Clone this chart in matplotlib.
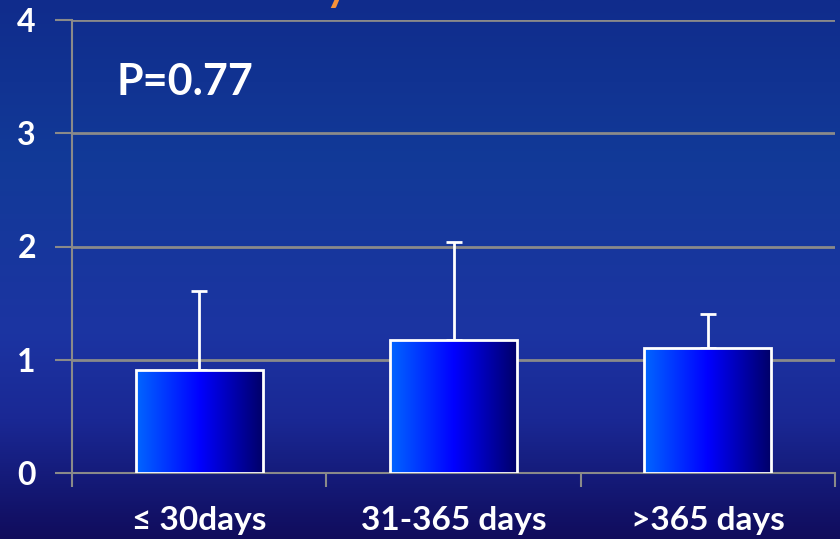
import numpy as np
import matplotlib
matplotlib.use("Agg")
import matplotlib.pyplot as plt
from matplotlib.colors import LinearSegmentedColormap
from matplotlib.patches import Rectangle

plt.rcParams['font.family'] = ['Lato', 'DejaVu Sans']

categories = ["\u2264 30days", "31-365 days", ">365 days"]
means = [0.91, 1.17, 1.10]
upper_err = [0.70, 0.87, 0.30]
yticks = [0, 1, 2, 3, 4]
p_label = "P=0.77"

GRID = "#8a8a8a"
W, H = 840, 539
fig = plt.figure(figsize=(W / 100, H / 100), dpi=100)

# vertical background gradient
bg = fig.add_axes([0, 0, 1, 1], zorder=-10)
bg_cmap = LinearSegmentedColormap.from_list(
    "bg",
    [(0.0, (16/255, 44/255, 140/255)),
     (0.30, (18/255, 58/255, 152/255)),
     (0.62, (28/255, 52/255, 162/255)),
     (0.78, (26/255, 40/255, 148/255)),
     (0.90, (20/255, 25/255, 118/255)),
     (1.0, (17/255, 12/255, 92/255))])
bg.imshow(np.linspace(0, 1, 256)[:, None], aspect="auto", cmap=bg_cmap,
          extent=[0, 1, 0, 1], origin="upper")
bg.set_axis_off()

# tail of the orange heading that runs off the top edge
fig.text(337 / W, 1 - 1.0 / H, "y", color="#f7923a", fontsize=30,
         fontweight="bold", ha="center", va="baseline")

ax = fig.add_axes([72 / W, 1 - 473 / H, (835 - 72) / W, (473 - 20) / H])
ax.set_facecolor("none")
ax.set_xlim(0, 3)
ax.set_ylim(0, 4)

bar_cmap = LinearSegmentedColormap.from_list(
    "bar", [(0.0, "#0066ff"), (0.5, "#0000ff"), (1.0, "#000066")])
xs = np.arange(len(categories)) + 0.5
width = 0.5
grad = np.linspace(0, 1, 256)[None, :]
for x, m, e in zip(xs, means, upper_err):
    ax.errorbar(x, m, yerr=[[0], [e]], fmt="none", ecolor="white",
                elinewidth=2, capsize=6, capthick=2, zorder=2)
    im = ax.imshow(grad, cmap=bar_cmap, aspect="auto",
                   extent=[x - width / 2, x + width / 2, 0, m], zorder=3)
    rect = Rectangle((x - width / 2, 0), width, m, facecolor="none",
                     edgecolor="white", linewidth=2, zorder=4)
    ax.add_patch(rect)
    im.set_clip_path(rect)
ax.set_xlim(0, 3)
ax.set_ylim(0, 4)

ax.set_yticks(yticks)
ax.set_yticklabels([str(t) for t in yticks])
ax.yaxis.grid(True, color=GRID, linewidth=2)
ax.set_axisbelow(True)
ax.tick_params(axis="y", colors=GRID, length=12, width=1.5, pad=14,
               labelcolor="white", labelsize=23)
for lab in ax.get_yticklabels():
    lab.set_fontweight("bold")

ax.set_xticks([0, 1, 2, 3])
ax.set_xticklabels([])
ax.set_xticks(xs, minor=True)
ax.set_xticklabels(categories, minor=True)
ax.tick_params(axis="x", which="major", colors=GRID, length=10, width=1.5)
ax.tick_params(axis="x", which="minor", length=0, pad=24,
               labelcolor="white", labelsize=24)
for lab in ax.get_xticklabels(minor=True):
    lab.set_fontweight("bold")

for side in ("top", "right"):
    ax.spines[side].set_visible(False)
for side in ("left", "bottom"):
    ax.spines[side].set_color(GRID)
    ax.spines[side].set_linewidth(1.5)

ax.text(0.175, 3.45, p_label, color="white", fontsize=31, fontweight="bold",
        ha="left", va="center")

fig.savefig("out.png", dpi=100)
